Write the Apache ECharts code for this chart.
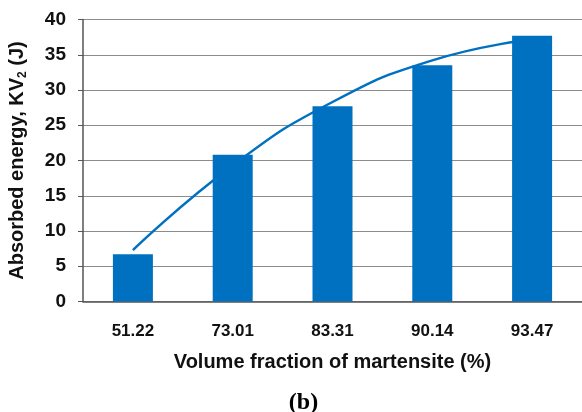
<!DOCTYPE html>
<html>
<head>
<meta charset="utf-8">
<style>html,body{margin:0;padding:0;background:#fff}#c{width:582px;height:412px}</style>
<script src="https://cdn.jsdelivr.net/npm/echarts@6/dist/echarts.min.js"></script>
</head>
<body>
<div id="c"></div>
<script>
var categories = ['51.22', '73.01', '83.31', '90.14', '93.47'];
var absorbedEnergy = [6.7, 20.8, 27.7, 33.5, 37.7];
var trendValues = [7.3, 19.3, 28.3, 34.2, 37.2];
var yTicks = {min: 0, max: 40, interval: 5};

var chart = echarts.init(document.getElementById('c'), null, {renderer: 'canvas'});
var blue = '#0070C0';
var font = 'Liberation Sans, Arial, sans-serif';
chart.setOption({
  animation: false,
  grid: {left: 83, top: 19.5, width: 504, bottom: 110.5, containLabel: false},
  xAxis: {
    type: 'category',
    data: categories,
    axisLine: {show: true, lineStyle: {color: '#555', width: 1.5}},
    axisTick: {show: false},
    axisLabel: {margin: 21, fontFamily: font, fontWeight: 'bold', fontSize: 17, color: '#111'},
    name: 'Volume fraction of martensite (%)',
    nameLocation: 'middle',
    nameGap: 51,
    nameTextStyle: {fontFamily: font, fontWeight: 'bold', fontSize: 20, color: '#111'}
  },
  yAxis: {
    type: 'value',
    min: yTicks.min, max: yTicks.max, interval: yTicks.interval,
    axisLine: {show: true, lineStyle: {color: '#555', width: 1.5}},
    axisTick: {show: true, inside: false, length: 5, lineStyle: {color: '#555'}},
    splitLine: {show: true, lineStyle: {color: '#8c8c8c', width: 1.2}},
    axisLabel: {margin: 17, fontFamily: font, fontWeight: 'bold', fontSize: 19, color: '#111'}
  },
  series: [
    {
      type: 'line',
      data: trendValues,
      smooth: true,
      symbol: 'none',
      z: 1,
      lineStyle: {color: blue, width: 2.5}
    },
    {
      type: 'bar',
      data: absorbedEnergy,
      barWidth: 40,
      z: 3,
      itemStyle: {color: blue}
    }
  ],
  graphic: [{
    type: 'text',
    x: 17, y: 160.5,
    rotation: Math.PI / 2,
    style: {
      text: '{a|Absorbed energy, KV}{s|2}{a| (J)}',
      align: 'center',
      verticalAlign: 'middle',
      font: 'bold 20px "Liberation Sans", Arial, sans-serif',
      fill: '#111',
      rich: {
        a: {font: 'bold 20px "Liberation Sans", Arial, sans-serif', fill: '#111', lineHeight: 24, verticalAlign: 'middle'},
        s: {font: 'bold 12px "Liberation Sans", Arial, sans-serif', fill: '#111', lineHeight: 24, verticalAlign: 'bottom', padding: [8, 0, 0, 0]}
      }
    }
  }, {
    type: 'text',
    x: 303.5, y: 403,
    style: {text: '(b)', align: 'center', verticalAlign: 'middle', font: 'bold 24px "Liberation Serif", "Times New Roman", serif', fill: '#000'}
  }]
});
</script>
</body>
</html>
